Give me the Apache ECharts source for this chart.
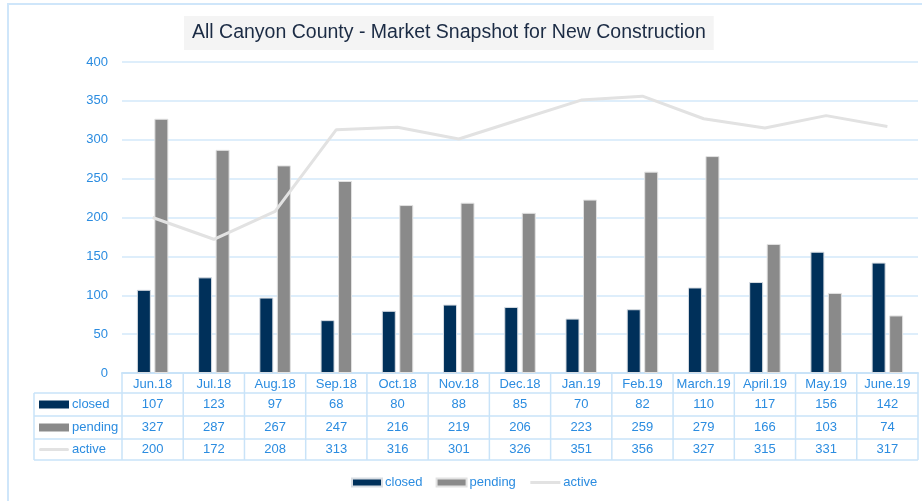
<!DOCTYPE html>
<html>
<head>
<meta charset="utf-8">
<script src="https://cdn.jsdelivr.net/npm/echarts@6/dist/echarts.min.js"></script>
<style>
  html, body { margin: 0; padding: 0; background: #fff; }
  #chart { width: 922px; height: 501px; }
</style>
</head>
<body>
<div id="chart"></div>
<script>
const months = ['Jun.18', 'Jul.18', 'Aug.18', 'Sep.18', 'Oct.18', 'Nov.18', 'Dec.18',
  'Jan.19', 'Feb.19', 'March.19', 'April.19', 'May.19', 'June.19']
const closed = [107, 123, 97, 68, 80, 88, 85, 70, 82, 110, 117, 156, 142]
const pending = [327, 287, 267, 247, 216, 219, 206, 223, 259, 279, 166, 103, 74]
const active = [200, 172, 208, 313, 316, 301, 326, 351, 356, 327, 315, 331, 317]

const blue = '#2b8ce0'
const lineBlue = '#c9e3f8'
const font = 'Liberation Sans'

const chart = echarts.init(document.getElementById('chart'))

const option = {
  backgroundColor: '#fff',
  animation: false,
  textStyle: { fontFamily: font },
  title: {
    text: 'All Canyon County - Market Snapshot for New Construction',
    left: 184,
    top: 16,
    backgroundColor: '#f4f4f4',
    padding: [7, 8, 7, 8],
    textStyle: { color: '#1b2b44', fontSize: 19.5, fontWeight: 'normal', fontFamily: font }
  },
  grid: { left: 122, right: 4, top: 62, bottom: 128 },
  legend: {
    left: 346,
    top: 471,
    itemWidth: 30,
    itemHeight: 8,
    itemGap: 13,
    textStyle: { color: blue, fontSize: 13, padding: [0, 0, 0, -2] },
    data: [
      { name: 'closed', icon: 'rect' },
      { name: 'pending', icon: 'rect' },
      { name: 'active', itemStyle: { opacity: 0 }, lineStyle: { width: 3 } }
    ]
  },
  xAxis: {
    type: 'category',
    data: months,
    axisLine: { lineStyle: { color: lineBlue, width: 2 } },
    axisTick: { show: false },
    axisLabel: { color: blue, fontSize: 13, margin: 5, interval: 0 }
  },
  yAxis: {
    type: 'value',
    min: 0,
    max: 400,
    interval: 50,
    axisLabel: { color: blue, fontSize: 13, margin: 14 },
    splitLine: { lineStyle: { color: '#d3e9fa', width: 1.5 } }
  },
  series: [
    {
      name: 'closed',
      type: 'bar',
      data: closed,
      barWidth: 14,
      barGap: '25%',
      itemStyle: { color: '#00305a', borderColor: '#d8dde3', borderWidth: 1 }
    },
    {
      name: 'pending',
      type: 'bar',
      data: pending,
      barWidth: 14,
      itemStyle: { color: '#8a8a8a', borderColor: '#e2e2e2', borderWidth: 1 }
    },
    {
      name: 'active',
      type: 'line',
      data: active,
      symbol: 'none',
      lineStyle: { color: '#e2e2e2', width: 3 },
      itemStyle: { color: '#e2e2e2' }
    }
  ]
}

chart.setOption(option)

// data table under the axis, positioned from the category axis
const buildTable = () => {
  const c0 = chart.convertToPixel({ xAxisIndex: 0 }, 0)
  const c1 = chart.convertToPixel({ xAxisIndex: 0 }, 1)
  const band = c1 - c0
  const left = c0 - band / 2
  const right = left + band * months.length
  const yTop = chart.convertToPixel({ yAxisIndex: 0 }, 0)
  const rows = [yTop, yTop + 20, yTop + 43, yTop + 66, yTop + 87]
  const labelLeft = 34
  const els = []
  const line = (x1, y1, x2, y2) => els.push({
    type: 'line',
    shape: { x1, y1, x2, y2 },
    style: { stroke: lineBlue, lineWidth: 1.5 }
  })
  for (let i = 0; i <= months.length; i++) {
    const x = left + band * i
    line(x, rows[0], x, rows[4])
  }
  line(labelLeft, rows[1], labelLeft, rows[4])
  for (let r = 1; r < rows.length; r++) line(labelLeft, rows[r], right, rows[r])

  const series = [
    { name: 'closed', values: closed, color: '#00305a', h: 8 },
    { name: 'pending', values: pending, color: '#8a8a8a', h: 8 },
    { name: 'active', values: active, color: '#e2e2e2', h: 3 }
  ]
  series.forEach((s, r) => {
    const cy = (rows[r + 1] + rows[r + 2]) / 2
    els.push({
      type: 'rect',
      shape: { x: 39, y: cy - s.h / 2, width: 30, height: s.h, r: s.h === 3 ? 1.5 : 0 },
      style: { fill: s.color }
    })
    els.push({
      type: 'text',
      x: 72, y: cy,
      style: { text: s.name, fill: blue, font: '13px ' + font, verticalAlign: 'middle' }
    })
    s.values.forEach((v, i) => {
      els.push({
        type: 'text',
        x: left + band * (i + 0.5), y: cy,
        style: { text: String(v), fill: blue, font: '13px ' + font, align: 'center', verticalAlign: 'middle' }
      })
    })
  })
  els.push({
    type: 'rect',
    shape: { x: 8, y: 4, width: 930, height: 520 },
    style: { fill: 'none', stroke: '#cfe6fa', lineWidth: 2 }
  })
  chart.setOption({ graphic: els })
}

buildTable()
</script>
</body>
</html>
